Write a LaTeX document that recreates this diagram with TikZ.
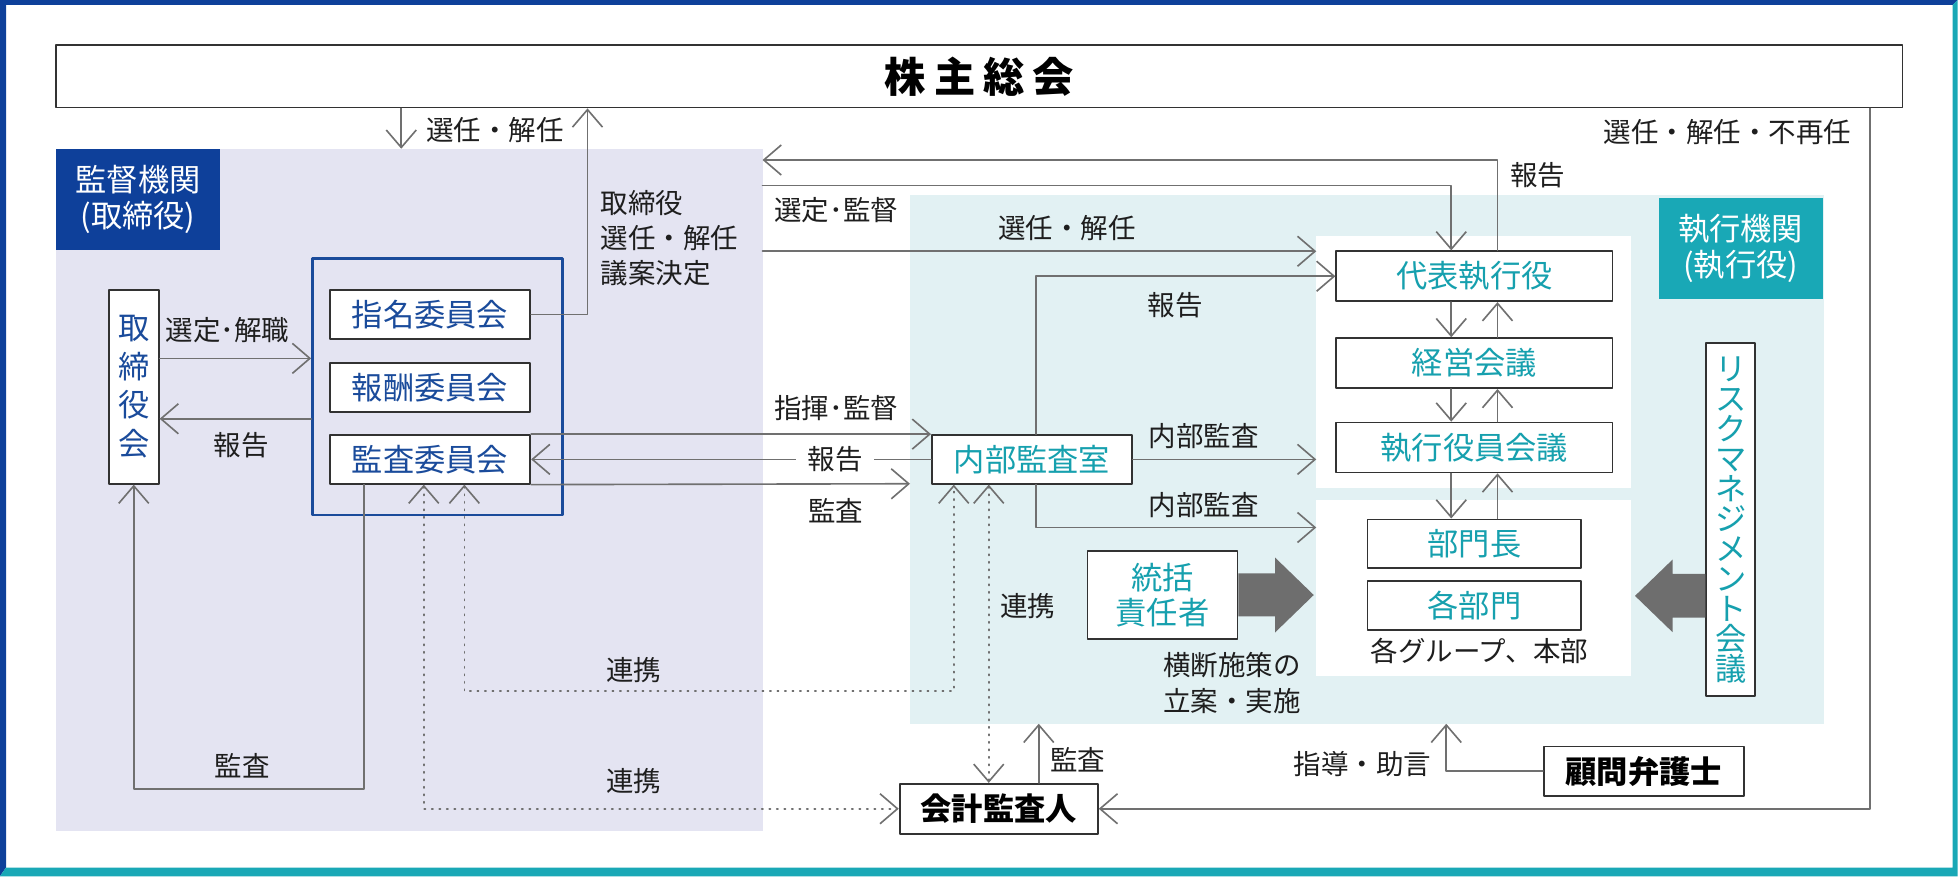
\documentclass[tikz,border=0pt]{standalone}
\usepackage{fontspec}
\setmainfont{Noto Sans CJK JP}
\usetikzlibrary{arrows.meta}
\definecolor{kanblue}{RGB}{14,64,154}
\definecolor{kantext}{RGB}{26,75,155}
\definecolor{shteal}{RGB}{25,168,182}
\definecolor{shtext}{RGB}{22,160,174}
\definecolor{kanbg}{RGB}{228,228,242}
\definecolor{shbg}{RGB}{226,241,243}
\definecolor{linegray}{RGB}{112,112,112}
\definecolor{boxgray}{RGB}{50,50,50}
\definecolor{fatgray}{RGB}{110,110,110}
\definecolor{txt}{RGB}{30,30,30}

\begin{document}
\begin{tikzpicture}[
	x=0.5pt, y=-0.5pt,
	>={Straight Barb[length=7pt,width=12pt]},
	line cap=round,
	line join=round,
	box/.style={draw=boxgray, line width=0.7pt, fill=white, inner sep=0pt, align=center, font=\fontsize{12.5}{15}\selectfont},
	bluebox/.style={box, text=kantext},
	tealbox/.style={box, text=shtext},
	blackbox/.style={box, text=black, font=\fontsize{12.5}{15}\selectfont\bfseries},
	tagbox/.style={inner sep=0pt, text=white, align=center, minimum width=65.5pt, minimum height=40.5pt, font=\fontsize{12.5}{14.5}\selectfont},
	lbl/.style={text=txt, inner sep=0pt, font=\fontsize{11}{14}\selectfont},
	conn/.style={draw=linegray, line width=0.65pt},
	dots/.style={conn, dash pattern=on 0.5pt off 2.5pt}
	]
	\useasboundingbox (0,0) rectangle (1568,701);

	% frame
	\fill[kanblue] (0,0) -- (1566,0) -- (1562,4) -- (4.8,4) -- (4.8,694) -- (0,701) -- cycle;
	\fill[shteal] (1566,0) -- (1566,701) -- (0,701) -- (4.8,694) -- (1562,694) -- (1562,4) -- cycle;

	% areas
	\fill[kanbg] (45,119) rectangle (610,665);
	\fill[shbg] (728,156) rectangle (1459,579);
	\fill[white] (1053,188.5) rectangle (1305,390);
	\fill[white] (1053,400) rectangle (1305,541);
	\node[tagbox, fill=kanblue] (kantag) at (110.5,159.5) {監督機関\\(取締役)};
	\node[tagbox, fill=shteal] (shtag) at (1392.5,198.5) {執行機関\\(執行役)};

	% boxes
	\node[box, minimum width=738.5pt, minimum height=25pt, font=\fontsize{16.5}{18}\selectfont\bfseries] (soukai) at (783.5,61)
		{株\hspace{3.2pt}主\hspace{3.2pt}総\hspace{3.2pt}会};
	\node[bluebox, minimum width=20pt, minimum height=77.5pt, font=\fontsize{12.5}{15.4}\selectfont] (torishimari) at (107,309.5) {取\\締\\役\\会};
	\node[draw=kantext, line width=1.1pt, inner sep=0pt, minimum width=100pt, minimum height=102.5pt] (iinkai) at (350,309.5) {};
	\node[bluebox, minimum width=80.2pt, minimum height=19.5pt] (shimei) at (344,251.5) {指名委員会};
	\node[bluebox, minimum width=80.2pt, minimum height=19.5pt] (houshu) at (344,310) {報酬委員会};
	\node[bluebox, minimum width=80.2pt, minimum height=19.5pt] (kansa) at (344,367.5) {監査委員会};
	\node[tealbox, minimum width=80pt, minimum height=19.5pt] (naibu) at (825.5,367.5) {内部監査室};
	\node[tealbox, minimum width=110.5pt, minimum height=20pt] (daihyo) at (1179.5,221) {代表執行役};
	\node[tealbox, minimum width=110.5pt, minimum height=20pt] (keiei) at (1179.5,290.5) {経営会議};
	\node[tealbox, minimum width=110.5pt, minimum height=20pt] (shikko) at (1179.5,358) {執行役員会議};
	\node[tealbox, minimum width=85.5pt, minimum height=19.5pt] (bumoncho) at (1179.5,435) {部門長};
	\node[tealbox, minimum width=85.5pt, minimum height=19.5pt] (kakubumon) at (1179.5,484.3) {各部門};
	\node[tealbox, minimum width=19.5pt, minimum height=141.2pt, font=\fontsize{12.5}{12}\selectfont] (risk) at (1384.5,415.8)
		{リ\\ス\\ク\\マ\\ネ\\ジ\\メ\\ン\\ト\\会\\議};
	\node[tealbox, minimum width=60pt, minimum height=35pt, font=\fontsize{12.5}{14}\selectfont] (tokatsu) at (930,476) {統括\\責任者};
	\node[blackbox, minimum width=79.3pt, minimum height=20pt] (kaikei) at (799,647) {会計監査人};
	\node[blackbox, minimum width=80pt, minimum height=19.8pt] (komon) at (1315,617) {顧問弁護士};

	% thick arrows
	\fill[fatgray] (tokatsu.east |- 0,458.7) -- (1020,458.7) -- (1020,446) -- (1051,476) -- (1020,506) -- (1020,493) -- (tokatsu.east |- 0,493) -- cycle;
	\fill[fatgray] (risk.west |- 0,459) -- (1338,459) -- (1338,447.7) -- (1308,476.7) -- (1338,505.7) -- (1338,494) -- (risk.west |- 0,494) -- cycle;

	% free ends and bends
	\coordinate (kantop) at (321,119);
	\coordinate (upline) at (470,0);
	\coordinate (r1) at (0,286.7);
	\coordinate (r2) at (0,335);
	\coordinate (shleft) at (728,387);
	\coordinate (kb) at (291,631);
	\coordinate (d1) at (371.5,553);
	\coordinate (d1r) at (763,553);
	\coordinate (d2) at (339,647);
	\coordinate (d3) at (791,0);
	\coordinate (shbot1) at (831,579);
	\coordinate (shbot2) at (1157,579);
	\coordinate (rr) at (1496,647);
	\coordinate (kanr1) at (610,128);
	\coordinate (kanr2) at (610,148.5);
	\coordinate (kanr3) at (610,201);
	\coordinate (t1) at (1198,128);
	\coordinate (t2) at (1161,148.5);
	\coordinate (n1) at (829,0);
	\coordinate (panel1) at (1053,201);
	\coordinate (panel2) at (1053,367.5);
	\coordinate (panel3) at (1053,422);
	\coordinate (dn) at (1161,0);
	\coordinate (up) at (1198,0);

	\begin{scope}[conn, ->]
		\draw (soukai.south -| kantop) -- (kantop);
		\draw (shimei.east) -| (soukai.south -| upline);
		\draw (torishimari.east |- r1) -- (iinkai.west |- r1);
		\draw (iinkai.west |- r2) -- (torishimari.east |- r2);
		\draw (kansa.north east) -- (naibu.north west);
		\draw (naibu.west) -- (kansa.east) node[pos=0.24, lbl, fill=white, inner xsep=4.5pt] {報告};
		\draw (kansa.south east) -- (shleft);
		\draw (kansa.south -| kb) -- (kb) -| (torishimari.south);
		\draw (kaikei.north -| shbot1) -- (shbot1);
		\draw (soukai.south -| rr) -- (rr) -- (kaikei.east);
		\draw (daihyo.north -| t1) -- (t1) -- (kanr1);
		\draw (kanr2) -- (t2) -- (daihyo.north -| t2);
		\draw (kanr3) -- (panel1);
		\draw (naibu.north -| n1) |- (daihyo.west);
		\draw (naibu.east) -- (panel2);
		\draw (naibu.south -| n1) |- (panel3);
		\draw (daihyo.south -| dn) -- (keiei.north -| dn);
		\draw (keiei.north -| up) -- (daihyo.south -| up);
		\draw (keiei.south -| dn) -- (shikko.north -| dn);
		\draw (shikko.north -| up) -- (keiei.south -| up);
		\draw (shikko.south -| dn) -- (bumoncho.north -| dn);
		\draw (bumoncho.north -| up) -- (shikko.south -| up);
		\draw (komon.west) -| (shbot2);
	\end{scope}
	\begin{scope}[dots, <->]
		\draw (kansa.south -| d1) -- (d1) -- (d1r) -- (naibu.south -| d1r);
		\draw (kansa.south -| d2) -- (d2) -- (kaikei.west);
		\draw (naibu.south -| d3) -- (kaikei.north -| d3);
	\end{scope}

	% labels
	\node[lbl] (l1) at (396,104) {選任・解任};
	\node[lbl, anchor=west, align=left] (l2) at (480,190.7) {取締役\\選任・解任\\議案決定};
	\node[lbl] (l3) at (182,264) {選定･解職};
	\node[lbl] (l4) at (193,356) {報告};
	\node[lbl] (l5) at (669,326.6) {指揮･監督};
	\node[lbl] (l6) at (668.7,409) {監査};
	\node[lbl] (l7) at (193.6,613) {監査};
	\node[lbl] (l8) at (507,536) {連携};
	\node[lbl] (l9) at (507,625) {連携};
	\node[lbl] (l10) at (822,485) {連携};
	\node[lbl] (l11) at (862,608) {監査};
	\node[lbl] (l12) at (1382,106) {選任・解任・不再任};
	\node[lbl] (l13) at (1230,140) {報告};
	\node[lbl] (l14) at (669,168) {選定･監督};
	\node[lbl] (l15) at (853.6,182.7) {選任・解任};
	\node[lbl] (l16) at (940,244) {報告};
	\node[lbl] (l17) at (963,349) {内部監査};
	\node[lbl] (l18) at (963,404) {内部監査};
	\node[lbl, anchor=west, align=left, font=\fontsize{11}{14.5}\selectfont] (l19) at (930,546.5) {横断施策の\\立案・実施};
	\node[lbl] (l20) at (1183.5,521) {各グループ、本部};
	\node[lbl] (l21) at (1090,611) {指導・助言};
\end{tikzpicture}
\end{document}
